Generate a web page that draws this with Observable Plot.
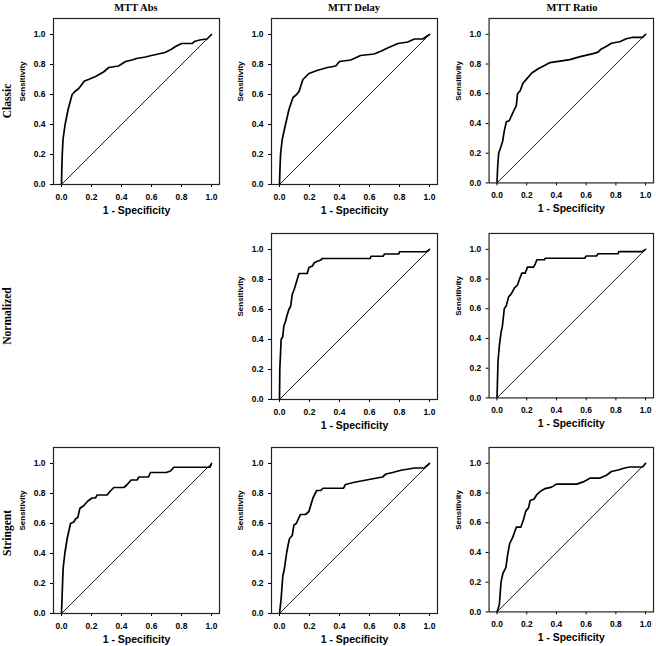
<!DOCTYPE html>
<html>
<head>
<meta charset="utf-8">
<script src="https://cdn.jsdelivr.net/npm/d3@7"></script>
<script src="https://cdn.jsdelivr.net/npm/@observablehq/plot@0.6"></script>
<style>
  body { margin: 0; background: #fff; }
  #chart { position: relative; width: 656px; height: 646px; overflow: hidden; background: #fff; }
  .panel { position: absolute; }
  .coltitle { position: absolute; font-family: "Liberation Serif", "Times New Roman", serif; font-weight: bold; font-size: 10.5px; transform: translate(-50%, -50%); white-space: nowrap; color: #000; }
  .rowtitle { position: absolute; font-family: "Liberation Serif", "Times New Roman", serif; font-weight: bold; font-size: 11.5px; transform: translate(-50%, -50%) rotate(-90deg); white-space: nowrap; color: #000; }
</style>
</head>
<body>
<div id="chart"></div>
<script>
// ---- Data ----
const columns = ["MTT Abs", "MTT Delay", "MTT Ratio"];
const rows = ["Classic", "Normalized", "Stringent"];
const xLabel = "1 - Specificity";
const yLabel = "Sensitivity";
const tickValues = [0, 0.2, 0.4, 0.6, 0.8, 1.0];
const diagonal = [0, 1];

const classicAbsX = [0, 0.002, 0.005, 0.01, 0.024, 0.044, 0.071, 0.09, 0.115, 0.153, 0.18, 0.227, 0.28, 0.315, 0.38, 0.427, 0.47, 0.50, 0.56, 0.60, 0.69, 0.73, 0.76, 0.80, 0.87, 0.89, 0.93, 0.97, 1.0];
const classicAbsY = [0, 0.1, 0.2, 0.3, 0.4, 0.5, 0.6, 0.62, 0.64, 0.69, 0.70, 0.72, 0.75, 0.78, 0.79, 0.82, 0.83, 0.84, 0.85, 0.86, 0.88, 0.90, 0.92, 0.94, 0.94, 0.955, 0.965, 0.97, 1.0];

const classicDelayX = [0, 0.003, 0.007, 0.018, 0.04, 0.063, 0.09, 0.114, 0.13, 0.156, 0.196, 0.25, 0.32, 0.375, 0.40, 0.475, 0.54, 0.63, 0.68, 0.72, 0.79, 0.855, 0.90, 0.955, 1.0];
const classicDelayY = [0, 0.1, 0.2, 0.3, 0.4, 0.5, 0.58, 0.6, 0.62, 0.7, 0.74, 0.76, 0.78, 0.79, 0.82, 0.83, 0.86, 0.87, 0.89, 0.91, 0.94, 0.95, 0.97, 0.97, 1.0];

const classicRatioX = [0, 0.004, 0.011, 0.022, 0.038, 0.049, 0.0625, 0.083, 0.11, 0.13, 0.138, 0.156, 0.174, 0.20, 0.234, 0.28, 0.32, 0.357, 0.424, 0.49, 0.56, 0.647, 0.68, 0.70, 0.737, 0.77, 0.826, 0.87, 0.915, 0.98, 1.0];
const classicRatioY = [0, 0.1, 0.2, 0.23, 0.28, 0.35, 0.41, 0.42, 0.48, 0.52, 0.6, 0.62, 0.67, 0.7, 0.74, 0.77, 0.79, 0.81, 0.82, 0.83, 0.85, 0.87, 0.88, 0.9, 0.92, 0.94, 0.95, 0.97, 0.98, 0.98, 1.0];

const normalizedDelayX = [0, 0.002, 0.011, 0.022, 0.029, 0.04, 0.05, 0.0625, 0.074, 0.085, 0.10, 0.118, 0.13, 0.185, 0.196, 0.22, 0.23, 0.248, 0.275, 0.286, 0.605, 0.61, 0.69, 0.70, 0.795, 0.80, 0.98, 1.0];
const normalizedDelayY = [0, 0.2, 0.4, 0.42, 0.49, 0.52, 0.56, 0.6, 0.62, 0.7, 0.74, 0.8, 0.84, 0.84, 0.88, 0.89, 0.91, 0.92, 0.93, 0.94, 0.94, 0.955, 0.955, 0.97, 0.97, 0.985, 0.985, 1.0];

const normalizedRatioX = [0, 0.007, 0.016, 0.027, 0.036, 0.049, 0.0625, 0.078, 0.096, 0.118, 0.138, 0.152, 0.167, 0.19, 0.205, 0.246, 0.257, 0.268, 0.32, 0.324, 0.59, 0.60, 0.67, 0.68, 0.815, 0.82, 0.98, 1.0];
const normalizedRatioY = [0, 0.25, 0.35, 0.44, 0.48, 0.6, 0.62, 0.68, 0.7, 0.74, 0.76, 0.8, 0.84, 0.84, 0.88, 0.88, 0.9, 0.93, 0.93, 0.94, 0.94, 0.955, 0.955, 0.97, 0.97, 0.985, 0.985, 1.0];

const stringentAbsX = [0, 0.007, 0.011, 0.022, 0.038, 0.06, 0.082, 0.093, 0.109, 0.122, 0.149, 0.176, 0.204, 0.226, 0.238, 0.304, 0.32, 0.349, 0.416, 0.438, 0.464, 0.504, 0.516, 0.58, 0.593, 0.698, 0.727, 0.749, 0.99, 1.0];
const stringentAbsY = [0, 0.2, 0.3, 0.4, 0.5, 0.6, 0.61, 0.63, 0.64, 0.7, 0.72, 0.75, 0.77, 0.77, 0.79, 0.79, 0.81, 0.84, 0.84, 0.86, 0.89, 0.89, 0.91, 0.91, 0.94, 0.94, 0.95, 0.975, 0.975, 1.0];

const stringentDelayX = [0, 0.011, 0.022, 0.033, 0.047, 0.056, 0.067, 0.085, 0.096, 0.112, 0.13, 0.14, 0.174, 0.196, 0.208, 0.223, 0.248, 0.275, 0.29, 0.426, 0.44, 0.50, 0.553, 0.632, 0.687, 0.71, 0.754, 0.81, 0.90, 0.966, 1.0];
const stringentDelayY = [0, 0.1, 0.25, 0.3, 0.4, 0.45, 0.5, 0.52, 0.59, 0.6, 0.64, 0.66, 0.66, 0.68, 0.72, 0.77, 0.82, 0.82, 0.835, 0.835, 0.86, 0.875, 0.885, 0.9, 0.91, 0.93, 0.94, 0.955, 0.97, 0.97, 1.0];

const stringentRatioX = [0, 0.016, 0.027, 0.04, 0.06, 0.071, 0.085, 0.105, 0.13, 0.16, 0.178, 0.194, 0.212, 0.223, 0.25, 0.268, 0.29, 0.324, 0.368, 0.40, 0.536, 0.58, 0.625, 0.69, 0.737, 0.77, 0.815, 0.848, 0.89, 0.98, 1.0];
const stringentRatioY = [0, 0.05, 0.2, 0.26, 0.3, 0.38, 0.46, 0.5, 0.57, 0.57, 0.62, 0.68, 0.7, 0.75, 0.76, 0.79, 0.81, 0.83, 0.84, 0.86, 0.86, 0.875, 0.9, 0.9, 0.92, 0.945, 0.955, 0.965, 0.975, 0.975, 1.0];

// panel grid: [row, col, xs, ys]
const panels = [
  [0, 0, classicAbsX, classicAbsY],
  [0, 1, classicDelayX, classicDelayY],
  [0, 2, classicRatioX, classicRatioY],
  [1, 1, normalizedDelayX, normalizedDelayY],
  [1, 2, normalizedRatioX, normalizedRatioY],
  [2, 0, stringentAbsX, stringentAbsY],
  [2, 1, stringentDelayX, stringentDelayY],
  [2, 2, stringentRatioX, stringentRatioY]
];

// ---- Layout ----
const frameLefts = [53, 271, 489];
const frameTops = [18, 233, 447];
const frameW = 166, frameH = 166;
const mL = 45, mR = 3, mT = 3, mB = 34;

const chart = document.getElementById("chart");

function makePanel(xs, ys) {
  const data = xs.map((x, i) => ({x, y: ys[i]}));
  return Plot.plot({
    width: mL + frameW + mR,
    height: mT + frameH + mB,
    marginLeft: mL, marginRight: mR, marginTop: mT, marginBottom: mB,
    style: {fontFamily: "'Liberation Sans', Arial, sans-serif", fontSize: "8.5px", fontWeight: "bold", color: "#000", background: "transparent", overflow: "visible"},
    x: {domain: [-8 / 150, 158 / 150]},
    y: {domain: [0, 166 / 150]},
    marks: [
      Plot.axisX({ticks: tickValues, tickFormat: d3.format(".1f"), tickSize: 3, tickPadding: 6, label: null, fontSize: 8.5, fontWeight: "bold"}),
      Plot.axisY({ticks: tickValues, tickFormat: d3.format(".1f"), tickSize: 3, tickPadding: 5, label: null, fontSize: 8.5, fontWeight: "bold"}),
      Plot.text([xLabel], {text: d => d, frameAnchor: "bottom", dy: 29, fontSize: 10.5, fontWeight: "bold", fill: "#000"}),
      Plot.text([yLabel], {text: d => d, frameAnchor: "left", dx: -31, rotate: -90, fontSize: 8, fontWeight: "bold", fill: "#000"}),
      Plot.line(diagonal, {x: d => d, y: d => d, stroke: "#000", strokeWidth: 0.9}),
      Plot.line(data, {x: "x", y: "y", stroke: "#000", strokeWidth: 1.7}),
      Plot.frame({stroke: "#222", strokeWidth: 1.2})
    ]
  });
}

for (const [r, c, xs, ys] of panels) {
  const svg = makePanel(xs, ys);
  const wrap = document.createElement("div");
  wrap.className = "panel";
  wrap.style.left = (frameLefts[c] - mL) + "px";
  wrap.style.top = (frameTops[r] - mT) + "px";
  wrap.appendChild(svg);
  chart.appendChild(wrap);
}

columns.forEach((name, c) => {
  const d = document.createElement("div");
  d.className = "coltitle";
  d.textContent = name;
  d.style.left = (frameLefts[c] + frameW / 2) + "px";
  d.style.top = "7px";
  chart.appendChild(d);
});

rows.forEach((name, r) => {
  const d = document.createElement("div");
  d.className = "rowtitle";
  d.textContent = name;
  d.style.left = "7px";
  d.style.top = (frameTops[r] + frameH / 2 + (r === 2 ? 3 : 0)) + "px";
  chart.appendChild(d);
});
</script>
</body>
</html>
